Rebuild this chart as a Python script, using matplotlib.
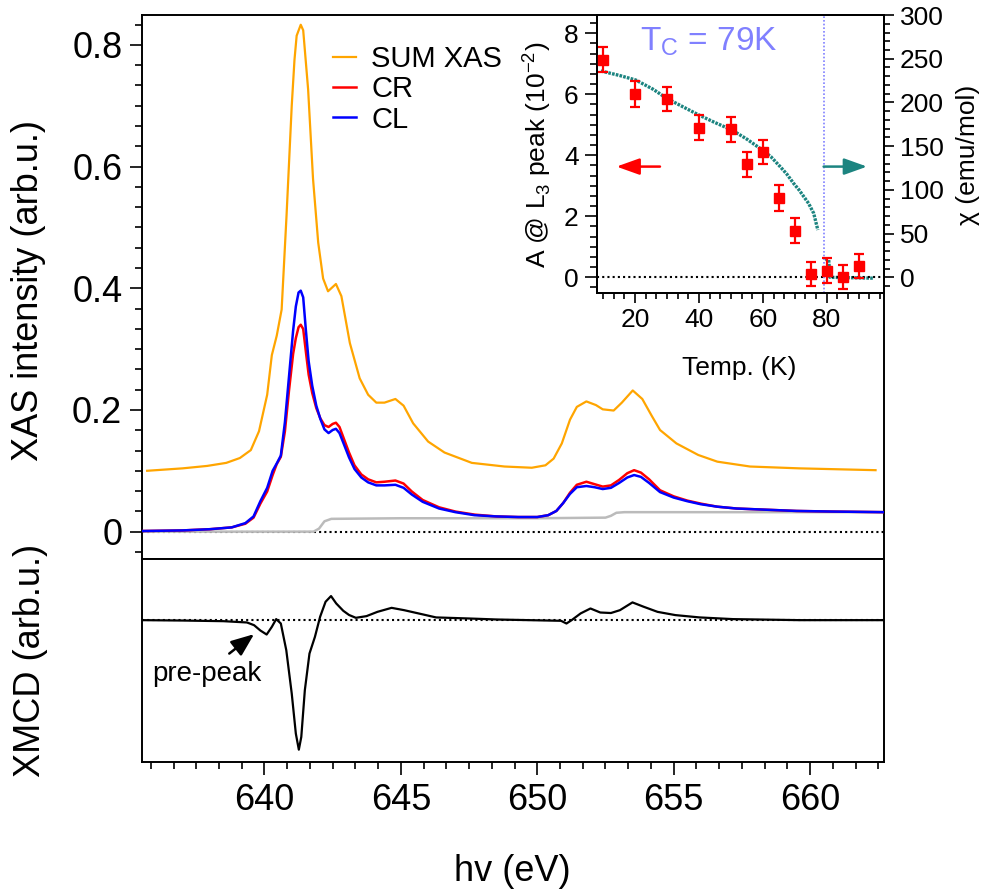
import numpy as np
import matplotlib
matplotlib.use('Agg')
import matplotlib.pyplot as plt
from matplotlib.ticker import MultipleLocator, AutoMinorLocator

plt.rcParams['font.family'] = ['Liberation Sans', 'DejaVu Sans']

# ---- XAS (CR / CL) ----
e_xas = [635.5, 637.0, 638.0, 638.8, 639.3, 639.6, 639.85, 640.1, 640.3, 640.45,
         640.6, 640.75, 640.9, 641.05, 641.15, 641.25, 641.33, 641.42, 641.52, 641.62,
         641.75, 641.9, 642.05, 642.2, 642.35, 642.5, 642.62, 642.75, 642.9, 643.1,
         643.3, 643.55, 643.8, 644.1, 644.4, 644.8, 645.1, 645.4, 645.8, 646.4,
         647.0, 647.7, 648.5, 649.3, 650.0, 650.4, 650.7, 650.95, 651.2, 651.45,
         651.8, 652.1, 652.4, 652.7, 653.0, 653.3, 653.55, 653.8, 654.1, 654.5,
         655.0, 655.5, 656.0, 656.6, 657.3, 658.4, 659.5, 660.8, 662.7]
cl = [0.001, 0.002, 0.004, 0.007, 0.014, 0.025, 0.050, 0.072, 0.100, 0.112,
      0.125, 0.180, 0.255, 0.330, 0.370, 0.393, 0.396, 0.385, 0.330, 0.280,
      0.240, 0.207, 0.185, 0.168, 0.162, 0.167, 0.169, 0.162, 0.145, 0.122,
      0.103, 0.089, 0.081, 0.076, 0.076, 0.077, 0.072, 0.061, 0.049, 0.038,
      0.032, 0.027, 0.025, 0.024, 0.024, 0.027, 0.034, 0.047, 0.062, 0.073,
      0.075, 0.073, 0.070, 0.072, 0.080, 0.089, 0.093, 0.090, 0.080, 0.065,
      0.056, 0.050, 0.045, 0.041, 0.038, 0.036, 0.034, 0.033, 0.032]
cr = [0.001, 0.002, 0.004, 0.007, 0.013, 0.023, 0.046, 0.066, 0.093, 0.111,
      0.123, 0.165, 0.232, 0.292, 0.318, 0.336, 0.340, 0.333, 0.295, 0.258,
      0.228, 0.203, 0.186, 0.175, 0.172, 0.177, 0.179, 0.172, 0.154, 0.130,
      0.109, 0.094, 0.086, 0.081, 0.082, 0.084, 0.079, 0.066, 0.052, 0.040,
      0.033, 0.028, 0.025, 0.024, 0.024, 0.027, 0.034, 0.047, 0.064, 0.077,
      0.082, 0.078, 0.074, 0.076, 0.085, 0.096, 0.101, 0.097, 0.086, 0.068,
      0.058, 0.051, 0.046, 0.041, 0.038, 0.036, 0.034, 0.033, 0.032]

# ---- SUM XAS (offset) ----
e_sum = [635.7, 637.0, 637.9, 638.6, 639.1, 639.5, 639.8, 640.1, 640.27, 640.45,
         640.63, 640.81, 641.0, 641.1, 641.18, 641.33, 641.42, 641.6, 641.78, 641.97,
         642.15, 642.33, 642.5, 642.62, 642.82, 643.13, 643.49, 643.8, 644.1, 644.4,
         644.8, 645.1, 645.45, 646.0, 646.6, 647.6, 648.8, 649.8, 650.3, 650.6,
         650.9, 651.2, 651.45, 651.8, 652.15, 652.4, 652.8, 653.1, 653.5, 653.85,
         654.2, 654.5, 655.1, 655.9, 656.6, 657.8, 659.6, 662.4]
sum_xas = [0.100, 0.104, 0.108, 0.113, 0.121, 0.134, 0.165, 0.225, 0.290, 0.322,
           0.365, 0.520, 0.700, 0.775, 0.815, 0.833, 0.824, 0.727, 0.580, 0.475,
           0.416, 0.395, 0.402, 0.407, 0.387, 0.310, 0.252, 0.225, 0.212, 0.212,
           0.218, 0.207, 0.178, 0.148, 0.130, 0.113, 0.107, 0.105, 0.109, 0.120,
           0.145, 0.184, 0.205, 0.214, 0.208, 0.201, 0.199, 0.212, 0.232, 0.218,
           0.190, 0.167, 0.145, 0.126, 0.115, 0.107, 0.104, 0.101]

# ---- step background ----
e_step = [635.5, 641.8, 642.0, 642.2, 642.45, 645.0, 650.0, 652.5, 652.7, 652.9, 653.2, 662.7]
step = [0.0, 0.0, 0.005, 0.017, 0.021, 0.022, 0.022, 0.023, 0.026, 0.031, 0.032, 0.032]

# ---- XMCD ----
e_xmcd = [635.5, 637.0, 638.5, 639.36, 639.62, 639.85, 640.08, 640.27, 640.43, 640.6,
          640.8, 641.0, 641.15, 641.26, 641.35, 641.48, 641.65, 641.85, 642.04, 642.24,
          642.44, 642.63, 642.89, 643.1, 643.35, 643.74, 644.14, 644.66, 645.12, 645.77,
          646.29, 647.47, 648.52, 650.87, 651.07, 651.26, 651.59, 651.95, 652.31, 652.7,
          653.03, 653.49, 653.88, 654.41, 655.06, 655.95, 657.17, 659.62, 662.7]
xmcd = [0.0, -0.003, -0.008, -0.018, -0.039, -0.080, -0.111, -0.052, 0.008, -0.026,
        -0.232, -0.567, -0.876, -1.0, -0.902, -0.541, -0.258, -0.129, 0.026, 0.142,
        0.186, 0.129, 0.072, 0.040, 0.018, 0.031, 0.064, 0.095, 0.077, 0.046,
        0.021, 0.013, 0.005, -0.005, -0.026, 0.0, 0.052, 0.090, 0.059, 0.055,
        0.077, 0.137, 0.105, 0.064, 0.039, 0.021, 0.008, 0.0, 0.0]

# ---- inset: peak amplitude vs T ----
temp = [10, 20, 30, 40, 50, 55, 60, 65, 70, 75, 80, 85, 90]
amp = [7.13, 6.01, 5.84, 4.91, 4.85, 3.70, 4.11, 2.60, 1.52, 0.11, 0.22, 0.0, 0.37]
amp_err = [0.41, 0.42, 0.40, 0.40, 0.41, 0.41, 0.40, 0.41, 0.41, 0.40, 0.41, 0.40, 0.40]

# ---- inset: susceptibility ----
t_chi = [9.3, 15, 20.2, 25.7, 29.9, 35, 40, 45, 50.3, 55, 59.1, 62.5, 65.4, 67.5,
         69.6, 71.3, 72.8, 74.3, 75.9, 77.2, np.nan, 79.5, 80.6, 81.0, 94.6]
chi = [236, 231, 225.7, 215, 204.7, 195, 185.6, 177, 168.5, 158, 147.5, 138, 126.6, 118,
       107.5, 100, 92.3, 84.6, 73.2, 54.1, np.nan, 21, 20, 0, -1]

tc = 79
y_ticks = [0, 0.2, 0.4, 0.6, 0.8]
y_ticklabels = ['0', '0.2', '0.4', '0.6', '0.8']

c_sum = '#ffa500'
c_cr = '#ff0000'
c_cl = '#0000ff'
c_teal = '#1c8480'
c_tc = '#8080ff'

fig = plt.figure(figsize=(9.84, 8.94), dpi=100)
ax = fig.add_axes([0.1440, 0.3747, 0.7541, 0.6085])
ax2 = fig.add_axes([0.1440, 0.1477, 0.7541, 0.2270], sharex=ax)

lw_sp = 1.4
for a in (ax, ax2):
    for s in a.spines.values():
        s.set_linewidth(lw_sp)

# main panel
ax.axhline(0, color='k', lw=1.5, ls=(0, (1, 1.5)), zorder=1)
ax.plot(e_step, step, color='#bbbbbb', lw=1.8, zorder=2)
ax.plot(e_sum, sum_xas, color=c_sum, lw=1.6, label='SUM XAS', zorder=3)
ax.plot(e_xas, cr, color=c_cr, lw=1.8, label='CR', zorder=4)
ax.plot(e_xas, cl, color=c_cl, lw=1.8, label='CL', zorder=5)
ax.set_xlim(635.5, 662.7)
ax.set_ylim(-0.045, 0.849)
ax.set_yticks(y_ticks)
ax.set_yticklabels(y_ticklabels)
ax.yaxis.set_minor_locator(AutoMinorLocator(6))
ax.xaxis.set_major_locator(MultipleLocator(5))
ax.xaxis.set_minor_locator(AutoMinorLocator(6))
ax.tick_params(which='both', direction='out', width=1.2, labelsize=26,
               top=False, right=False, labelbottom=False, pad=5)
ax.tick_params(which='major', length=9)
ax.tick_params(which='minor', length=5)

leg = ax.legend(loc='upper left', bbox_to_anchor=(0.258, 0.945), frameon=False,
                fontsize=21, handlelength=0.8, handletextpad=0.5, labelspacing=0.08,
                borderpad=0, borderaxespad=0)

# XMCD panel
ax2.axhline(0, color='k', lw=1.5, ls=(0, (1, 1.5)), zorder=1)
ax2.plot(e_xmcd, xmcd, color='k', lw=1.6, zorder=2)
ax2.set_ylim(-1.095, 0.472)
ax2.set_yticks([])
ax2.tick_params(axis='x', which='both', direction='out', width=1.2, labelsize=26,
                top=False, pad=6)
ax2.tick_params(axis='x', which='major', length=9)
ax2.tick_params(axis='x', which='minor', length=5)
ax2.text(637.89, -0.412, 'pre-peak', fontsize=20, ha='center', va='center')
ax2.annotate('', xy=(639.62, -0.108), xytext=(638.71, -0.258),
             arrowprops=dict(arrowstyle='-|>,head_length=0.7,head_width=0.28',
                             color='k', lw=1.8, mutation_scale=20, shrinkA=0, shrinkB=0))

fig.text(0.0285, 0.6756, 'XAS intensity (arb.u.)', rotation=90, fontsize=26,
         ha='center', va='center')
fig.text(0.0305, 0.2617, 'XMCD (arb.u.)', rotation=90, fontsize=26,
         ha='center', va='center')
fig.text(0.521, 0.0249, 'hv (eV)', fontsize=26, ha='center', va='center')

# inset
ins = fig.add_axes([0.6064, 0.6726, 0.2923, 0.3106])
ins2 = ins.twinx()
for a in (ins, ins2):
    for s in a.spines.values():
        s.set_linewidth(lw_sp)
ins.axhline(0, color='k', lw=1.5, ls=(0, (1, 1.5)), zorder=1)
ins.axvline(tc, color=c_tc, lw=1.2, ls=(0, (1, 1.2)), zorder=1)
ins2.plot(t_chi, chi, color=c_teal, lw=2.4, ls=(0, (0.8, 0.35)), zorder=2)
ins.errorbar(temp, amp, yerr=amp_err, fmt='s', color=c_cr, ms=6.5, elinewidth=1.6,
             capsize=3.5, capthick=1.6, zorder=5)
ins.set_zorder(ins2.get_zorder() + 1)
ins.patch.set_visible(False)

ins.set_xlim(8, 98)
ins.set_ylim(-0.505, 8.6)
ins2.set_ylim(-17.6, 300)
ins.xaxis.set_major_locator(MultipleLocator(20))
ins.xaxis.set_minor_locator(AutoMinorLocator(6))
ins.yaxis.set_major_locator(MultipleLocator(2))
ins.yaxis.set_minor_locator(AutoMinorLocator(6))
ins2.yaxis.set_major_locator(MultipleLocator(50))
ins2.yaxis.set_minor_locator(AutoMinorLocator(5))
ins.tick_params(which='both', direction='out', width=1.2, labelsize=19,
                top=False, right=False, pad=4)
ins.tick_params(axis='y', which='major', length=9)
ins.tick_params(axis='y', which='minor', length=5)
ins.tick_params(axis='x', which='major', length=7)
ins.tick_params(axis='x', which='minor', length=4)
ins2.tick_params(which='both', direction='out', width=1.2, labelsize=19, pad=4)
ins2.tick_params(which='major', length=7)
ins2.tick_params(which='minor', length=4)

ins.text(21.6, 7.72, r'T$_\mathregular{C}$ = 79K', color=c_tc, fontsize=24,
         ha='left', va='center')
ins.annotate('', xy=(14.2, 3.63), xytext=(27.8, 3.63),
             arrowprops=dict(arrowstyle='-|>,head_length=0.7,head_width=0.25',
                             color=c_cr, lw=1.8, mutation_scale=20, shrinkA=0, shrinkB=0))
ins.annotate('', xy=(92.6, 3.63), xytext=(79.0, 3.63),
             arrowprops=dict(arrowstyle='-|>,head_length=0.7,head_width=0.25',
                             color=c_teal, lw=1.8, mutation_scale=20, shrinkA=0, shrinkB=0))

fig.text(0.5454, 0.8266, r'A @ L$_\mathregular{3}$ peak (10$^\mathregular{-2}$)',
         rotation=90, fontsize=19, ha='center', va='center')
fig.text(0.9837, 0.8266, 'χ (emu/mol)', rotation=90, fontsize=19,
         ha='center', va='center')
fig.text(0.751, 0.5884, 'Temp. (K)', fontsize=19, ha='center', va='center')

fig.savefig('out.png', dpi=100)
